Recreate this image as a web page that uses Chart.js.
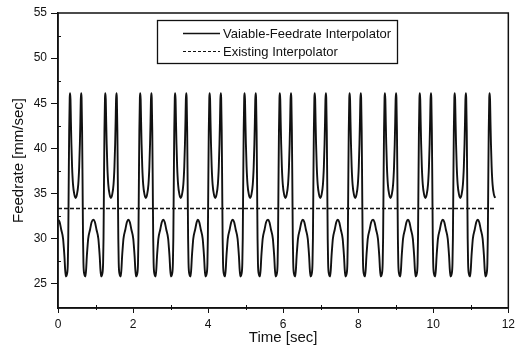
<!DOCTYPE html>
<html><head><meta charset="utf-8">
<script src="https://cdn.jsdelivr.net/npm/chart.js@4/dist/chart.umd.min.js"></script>
<style>html,body{margin:0;padding:0;background:#fff;}#wrap{width:519px;height:347px;}</style>
</head><body><div id="wrap"><canvas id="c" width="519" height="347"></canvas></div>
<script>
// ---- data ----
const xTicks = [0, 2, 4, 6, 8, 10, 12];
const xMinorTicks = [1, 3, 5, 7, 9, 11];
const yTicks = [25, 30, 35, 40, 45, 50, 55];
const yMinorTicks = [27.5, 32.5, 37.5, 42.5, 47.5, 52.5];
const seriesNames = ['Vaiable-Feedrate Interpolator', 'Existing Interpolator'];
// shape of one repeated cycle of the variable-feedrate curve (time offset from the dip of the upper loop [sec], feedrate [mm/sec])
const cycleOffsets = [-0.465,-0.425,-0.385,-0.335,-0.315,-0.298,-0.280,-0.262,-0.228,-0.208,-0.197,-0.185,-0.172,-0.158,-0.147,-0.137,-0.126,-0.113,-0.095,-0.070,-0.035,0,
  0.035,0.070,0.095,0.113,0.126,0.137,0.147,0.158,0.172,0.185,0.197,0.208,0.228,0.262,0.280,0.298,0.315,0.335,0.385,0.425];
const cycleValues = [32.1,31.8,31.0,30.0,29.0,28.0,26.6,25.8,26.1,27.3,30.0,36.0,42.0,45.6,46.1,45.4,43.0,40.5,38.0,36.0,34.9,34.5,
  34.9,36.0,38.0,40.5,43.0,45.4,46.1,45.6,42.0,36.0,30.0,27.3,26.1,25.8,26.6,28.0,29.0,30.0,31.0,31.8];
// time of each upper-loop dip [sec]
const cycleCenters = [0.47, 1.41, 2.34, 3.27, 4.19, 5.12, 6.06, 6.99, 7.92, 8.86, 9.79, 10.72, 11.65];
const feedEndTime = 11.65;
const existingTimes = [0, 11.65];
const existingValues = [33.33, 33.33];

const feedPoints = [];
cycleCenters.forEach(c => cycleOffsets.forEach((o, i) => {
  const t = c + o;
  if (t >= 0 && t <= feedEndTime + 1e-9) feedPoints.push({x: +t.toFixed(3), y: cycleValues[i]});
}));
const existingPoints = existingTimes.map((t, i) => ({x: t, y: existingValues[i]}));

const INK = '#111';
const FONT = '"Liberation Sans", Arial, sans-serif';
const framePlugin = {
  id: 'frame',
  afterDraw(chart) {
    const {ctx, chartArea: a, scales: {x, y}} = chart;
    ctx.save();
    ctx.strokeStyle = INK;
    ctx.lineWidth = 1.5;
    ctx.strokeRect(a.left, a.top, a.right - a.left, a.bottom - a.top);
    ctx.lineWidth = 1;
    ctx.beginPath();
    yMinorTicks.forEach(v => { const p = Math.round(y.getPixelForValue(v)) + 0.5; ctx.moveTo(a.left, p); ctx.lineTo(a.left + 3, p); });
    xMinorTicks.forEach(v => { const p = Math.round(x.getPixelForValue(v)) + 0.5; ctx.moveTo(p, a.bottom + 2); ctx.lineTo(p, a.bottom - 3); });
    ctx.stroke();
    // legend
    const L = 157.5, T = 20.5, R = 397.5, B = 63.5;
    ctx.fillStyle = '#fff';
    ctx.fillRect(L, T, R - L, B - T);
    ctx.lineWidth = 1.3;
    ctx.strokeRect(L, T, R - L, B - T);
    const rows = [33.5, 51.5];
    const dashes = [[], [3, 2]];
    const widths = [1.4, 1.2];
    ctx.font = '13px ' + FONT;
    ctx.textBaseline = 'middle';
    ctx.fillStyle = INK;
    seriesNames.forEach((name, i) => {
      ctx.setLineDash(dashes[i]);
      ctx.lineWidth = widths[i];
      ctx.beginPath(); ctx.moveTo(183, rows[i]); ctx.lineTo(220, rows[i]); ctx.stroke();
      ctx.setLineDash([]);
      ctx.fillText(name, 223, rows[i] + 0.5);
    });
    ctx.restore();
  }
};

new Chart(document.getElementById('c'), {
  type: 'line',
  data: {
    datasets: [
      {label: seriesNames[0], data: feedPoints, borderColor: INK, borderWidth: 1.9, pointRadius: 0, fill: false, cubicInterpolationMode: 'monotone'},
      {label: seriesNames[1], data: existingPoints, borderColor: INK, borderWidth: 1.4, borderDash: [4, 2], pointRadius: 0, fill: false}
    ]
  },
  options: {
    responsive: false, animation: false, devicePixelRatio: 1,
    layout: {padding: {top: 13, right: 5, left: 0, bottom: 0}},
    plugins: {legend: {display: false}, tooltip: {enabled: false}},
    scales: {
      x: {
        type: 'linear', min: 0, max: 12,
        afterBuildTicks: s => { s.ticks = xTicks.map(v => ({value: v})); },
        afterFit: s => { s.height = 39; },
        ticks: {color: INK, font: {family: FONT, size: 12}, padding: 4, maxRotation: 0, autoSkip: false},
        grid: {drawOnChartArea: false, drawTicks: true, tickLength: 5, color: INK, lineWidth: 1},
        border: {display: true, color: INK, width: 1.5},
        title: {display: true, text: 'Time [sec]', color: INK, font: {family: FONT, size: 15}, padding: {top: 0, bottom: 0}}
      },
      y: {
        type: 'linear', min: 22.3, max: 55,
        afterBuildTicks: s => { s.ticks = yTicks.map(v => ({value: v})); },
        afterFit: s => { s.width = 58; },
        ticks: {color: INK, font: {family: FONT, size: 12}, padding: 4},
        grid: {drawOnChartArea: false, drawTicks: true, tickLength: 7, color: INK, lineWidth: 1},
        border: {display: true, color: INK, width: 1.5},
        title: {display: true, text: 'Feedrate [mm/sec]', color: INK, font: {family: FONT, size: 15}, padding: {top: 10, bottom: 0}}
      }
    }
  },
  plugins: [framePlugin]
});
</script></body></html>
